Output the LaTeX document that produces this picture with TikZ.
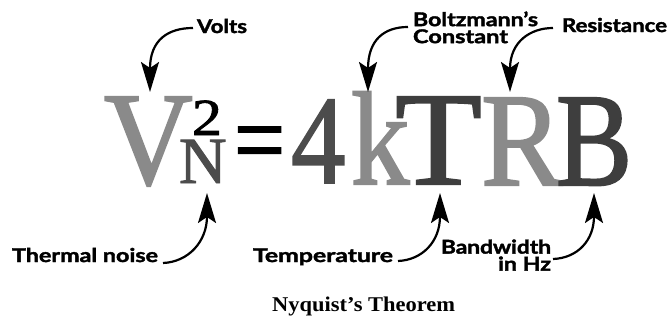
\documentclass[tikz,border=0pt]{standalone}
\usepackage{fontspec}
\setmainfont{Liberation Serif}
\newfontfamily\eqfont{Liberation Serif}[FakeBold=1.5]
\newfontfamily\lblfont{Lato}[BoldFeatures={FakeBold=1.8}]
\usetikzlibrary{arrows.meta}
\definecolor{lightg}{HTML}{8A8A8A}
\definecolor{darkg}{HTML}{4C4C4C}
\definecolor{darkerg}{HTML}{3E3E3E}
\begin{document}
\begin{tikzpicture}[x=1pt,y=-1pt,
  glyph/.style={inner sep=0pt, outer sep=0pt, anchor=base west, font=\eqfont\fontsize{133}{140}\selectfont},
  lbl/.style={inner sep=0pt, outer sep=0pt, anchor=base west, font=\lblfont\bfseries\fontsize{19}{17}\selectfont},
  callout/.style={line width=2.2pt, -{Stealth[length=30pt,width=18pt,inset=6pt]}}]
\useasboundingbox[fill=white] (0,0) rectangle (672,324);

% equation
\node[glyph, text=lightg] (V) at (104,184) {\scalebox{0.925}[1]{V}};
\node[glyph, text=black, font=\eqfont\fontsize{52}{56}\selectfont] (two) at (192,135) {\scalebox{1.15}[1]{2}};
\node[glyph, text=darkg, font=\eqfont\fontsize{66}{70}\selectfont] (N) at (179,183) {N};
\node[glyph, text=black] (eq) at (234,175) {\scalebox{0.68}[0.79]{=}};
\node[glyph, text=darkg] (four) at (291,183) {\scalebox{0.82}[0.95]{4}};
\node[glyph, text=lightg] (k) at (351,184) {\scalebox{0.88}[1]{k}};
\node[glyph, text=darkerg] (T) at (395,184) {\scalebox{1.07}[1]{T}};
\node[glyph, text=lightg] (R) at (481,185) {\scalebox{0.92}[1]{R}};
\node[glyph, text=darkerg] (B) at (556,185) {\scalebox{0.86}[1]{B}};

% labels
\node[lbl] (volts) at (197,33) {\resizebox{50pt}{\height}{Volts}};
\node[lbl, anchor=north west, align=left] (boltz) at (413,11.5)
  {\resizebox{125pt}{\height}{Boltzmann’s}\\\resizebox{95pt}{\height}{Constant}};
\node[lbl] (resist) at (562,32) {\resizebox{105pt}{\height}{Resistance}};
\node[lbl] (thermal) at (12,262) {\resizebox{146pt}{\height}{Thermal noise}};
\node[lbl] (temp) at (253,262) {\resizebox{140pt}{\height}{Temperature}};
\node[lbl, anchor=north east, align=right] (band) at (551,239.5)
  {\resizebox{110pt}{\height}{Bandwidth}\\\resizebox{53pt}{\height}{in Hz}};
\node[inner sep=0pt, anchor=base west, font=\bfseries\fontsize{21}{24}\selectfont] (title) at (272,311) {\resizebox{183pt}{\height}{Nyquist’s Theorem}};

% connector ends
\coordinate (vs) at (193,28);   \coordinate (vt) at (150,92);
\coordinate (bs) at (408,27);   \coordinate (bt) at (368,92);
\coordinate (rs) at (553,28);   \coordinate (rt) at (510,92);
\coordinate (ths) at (163,263); \coordinate (tht) at (207,193);
\coordinate (tes) at (398,261); \coordinate (tet) at (440,193);
\coordinate (bas) at (553,259); \coordinate (bat) at (594,193);

\draw[callout] (vs) .. controls (168,28) and (150,40) .. (vt);
\draw[callout] (bs) .. controls (384,27) and (368,40) .. (bt);
\draw[callout] (rs) .. controls (530,28) and (510,42) .. (rt);
\draw[callout] (ths) .. controls (188,262) and (207,242) .. (tht);
\draw[callout] (tes) .. controls (422,260) and (440,242) .. (tet);
\draw[callout] (bas) .. controls (578,258) and (594,240) .. (bat);
\end{tikzpicture}
\end{document}
